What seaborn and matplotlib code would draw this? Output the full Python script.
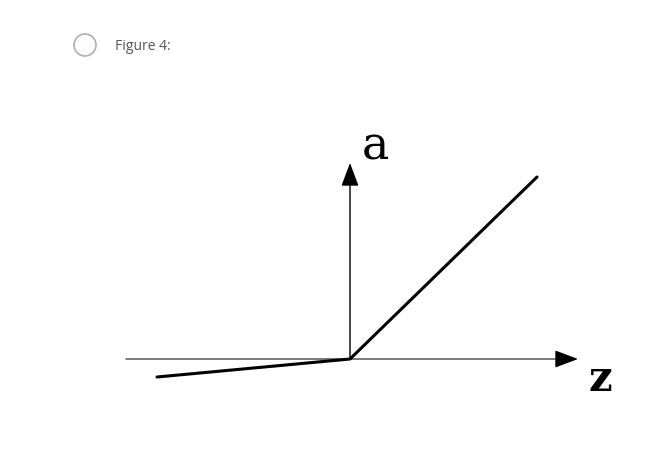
import matplotlib
matplotlib.use("Agg")
import matplotlib.pyplot as plt
import seaborn as sns
import pandas as pd
from matplotlib.patches import Circle

# Leaky ReLU data (pixel-scaled units, origin at the axes crossing)
z_vals = [-193, 0, 187]
a_vals = [-18, 0, 182]
caption = "Figure 4:"
x_label = "z"
y_label = "a"

sns.set_theme(style="white")
plt.rcParams['font.family'] = ['DejaVu Sans']

fig = plt.figure(figsize=(6.52, 4.54), dpi=100)
ax = fig.add_axes([0, 0, 1, 1])
ax.set_xlim(-350, 302)
ax.set_ylim(-95, 359)
ax.axis("off")

df = pd.DataFrame({"z": z_vals, "a": a_vals})
sns.lineplot(data=df, x="z", y="a", ax=ax, color="black", linewidth=2.2, sort=False)

# axes arrows
ax.plot([-224, 214], [0, 0], color="#555555", lw=1.1, zorder=1)
ax.annotate("", xy=(228, 0), xytext=(210, 0),
            arrowprops=dict(arrowstyle="-|>,head_length=1.2,head_width=0.45", color="black", lw=1.0,
                            shrinkA=0, shrinkB=0))
ax.annotate("", xy=(0, 196), xytext=(0, 0),
            arrowprops=dict(arrowstyle="-|>,head_length=1.2,head_width=0.45", color="black", lw=1.0,
                            shrinkA=0, shrinkB=0))

ax.text(25, 200, y_label, fontsize=33, family="DejaVu Serif", color="black", ha="center", va="baseline")
ax.text(250, -32, x_label, fontsize=30, family="DejaVu Serif", fontweight="bold", color="black",
        ha="center", va="baseline")

# radio button and caption (pixel-based so it stays round)
fig.patches.append(Circle((85, 454 - 45), 11, transform=None,
                          facecolor="#fdfdfd", edgecolor="#b0b0b0", lw=1.2))
fig.text(115 / 652, 1 - 46 / 454, caption, fontsize=10, family="Open Sans", color="#555555",
         ha="left", va="center")

fig.savefig("out.png", dpi=100)
